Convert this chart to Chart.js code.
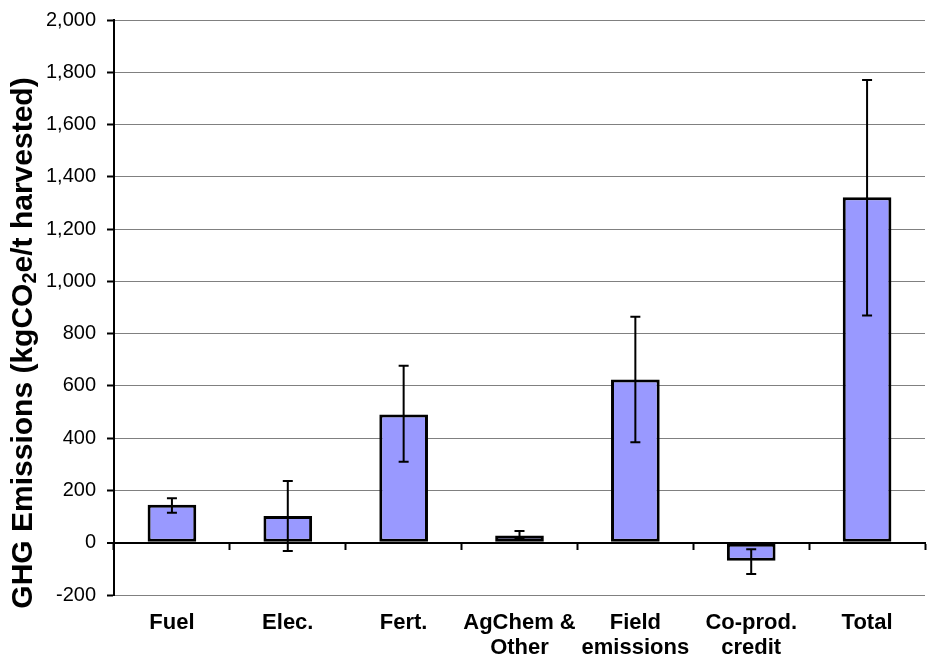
<!DOCTYPE html>
<html>
<head>
<meta charset="utf-8">
<script src="https://cdn.jsdelivr.net/npm/chart.js@4.4.1/dist/chart.umd.min.js"></script>
<style>
  html, body { margin: 0; padding: 0; background: #fff; }
  #wrap { width: 929px; height: 657px; }
</style>
</head>
<body>
<div id="wrap"><canvas id="ghg"></canvas></div>
<script>
const categories = ['Fuel', 'Elec.', 'Fert.', ['AgChem &', 'Other'], ['Field', 'emissions'], ['Co-prod.', 'credit'], 'Total'];
const emissions = [145, 102, 491, 28, 625, -69, 1322];
const errLow = [115, -32, 310, 15, 384, -120, 869];
const errHigh = [170, 236, 677, 45, 865, -25, 1770];

// whiskers drawn through the y scale
const errorBars = {
  id: 'errorBars',
  afterDatasetsDraw(chart) {
    const ctx = chart.ctx;
    const y = chart.scales.y;
    const meta = chart.getDatasetMeta(0);
    ctx.save();
    ctx.strokeStyle = '#000';
    ctx.lineWidth = 2;
    meta.data.forEach((bar, i) => {
      const yLo = y.getPixelForValue(errLow[i]);
      const yHi = y.getPixelForValue(errHigh[i]);
      ctx.beginPath();
      ctx.moveTo(bar.x, yLo);
      ctx.lineTo(bar.x, yHi);
      ctx.moveTo(bar.x - 5, yLo);
      ctx.lineTo(bar.x + 5, yLo);
      ctx.moveTo(bar.x - 5, yHi);
      ctx.lineTo(bar.x + 5, yHi);
      ctx.stroke();
    });
    ctx.restore();
  }
};

// y title with a real subscript
const yTitle = {
  id: 'yTitle',
  afterDraw(chart) {
    const ctx = chart.ctx;
    const big = 'bold 30px "Liberation Sans", Arial, sans-serif';
    const small = 'bold 20px "Liberation Sans", Arial, sans-serif';
    const parts = [['GHG Emissions (kgCO', big, 0], ['2', small, 6], ['e/t harvested)', big, 0]];
    ctx.save();
    ctx.fillStyle = '#000';
    ctx.textBaseline = 'middle';
    let total = 0;
    parts.forEach(p => { ctx.font = p[1]; total += ctx.measureText(p[0]).width; });
    ctx.translate(24, 343);
    ctx.rotate(-Math.PI / 2);
    let x = -total / 2;
    parts.forEach(p => {
      ctx.font = p[1];
      ctx.fillText(p[0], x, p[2]);
      x += ctx.measureText(p[0]).width;
    });
    ctx.restore();
  }
};

new Chart(document.getElementById('ghg'), {
  type: 'bar',
  data: {
    labels: categories,
    datasets: [{
      label: 'GHG Emissions',
      data: emissions,
      backgroundColor: '#9999FF',
      borderColor: '#000',
      borderWidth: 3,
      borderSkipped: false,
      barPercentage: 0.42,
      categoryPercentage: 1
    }]
  },
  options: {
    responsive: true,
    maintainAspectRatio: false,
    animation: false,
    layout: { padding: { top: 20, right: 4, left: 0, bottom: 0 } },
    plugins: {
      legend: { display: false },
      tooltip: { enabled: false }
    },
    scales: {
      x: {
        position: 'bottom',
        offset: true,
        grid: { display: false },
        border: { display: false },
        ticks: {
          color: '#000',
          padding: 7,
          maxRotation: 0,
          autoSkip: false,
          font: { family: '"Liberation Sans", Arial, sans-serif', size: 22, weight: 'bold', lineHeight: 1.15 }
        },
        afterFit(scale) {
          scale.height = 62;
          scale.paddingLeft = 0;
          scale.paddingRight = 0;
        }
      },
      x2: {
        type: 'category',
        position: { y: 0 },
        offset: true,
        grid: { offset: true, drawOnChartArea: false, drawTicks: true, tickLength: 6, tickColor: '#000', tickWidth: 2 },
        border: { color: '#000', width: 2 },
        ticks: { display: false }
      },
      y: {
        min: -200,
        max: 2000,
        border: { color: '#000', width: 2 },
        grid: {
          color: ctx => ctx.tick && ctx.tick.value === 0 ? '#000' : '#808080',
          lineWidth: ctx => ctx.tick && ctx.tick.value === 0 ? 2 : 1,
          tickColor: '#000',
          tickLength: 7,
          tickWidth: 2
        },
        ticks: {
          stepSize: 200,
          color: '#000',
          padding: 11,
          font: { family: '"Liberation Sans", Arial, sans-serif', size: 20 },
          callback: v => v.toLocaleString('en-US')
        },
        afterFit(scale) {
          scale.width = 114;
          scale.paddingTop = 0;
          scale.paddingBottom = 0;
        }
      }
    }
  },
  plugins: [errorBars, yTitle]
});
</script>
</body>
</html>
